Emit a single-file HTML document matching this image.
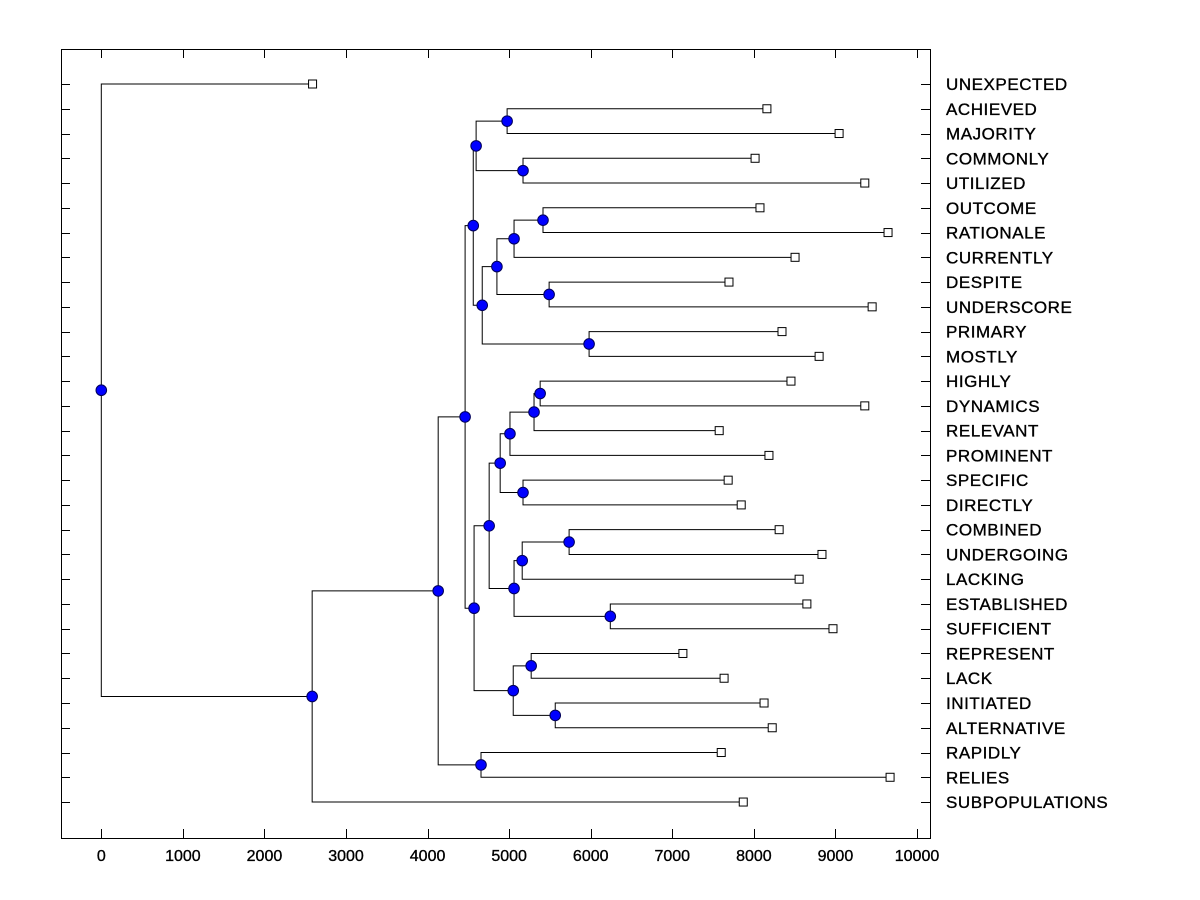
<!DOCTYPE html>
<html><head><meta charset="utf-8"><style>
body{margin:0;background:#fff;}
svg{display:block;font-family:"Liberation Sans",Arial,sans-serif;}
</style></head><body>
<svg id="chart" width="1200" height="900" viewBox="0 0 1200 900" xmlns="http://www.w3.org/2000/svg">
<rect x="61.5" y="49.5" width="869" height="789" fill="none" stroke="#000" stroke-width="1"/>
<g id="axes"></g>
<g id="links"></g>
<g id="marks"></g>
<g id="labels"></g>
</svg>
<script>
const leafNames = ["UNEXPECTED","ACHIEVED","MAJORITY","COMMONLY","UTILIZED","OUTCOME","RATIONALE","CURRENTLY","DESPITE","UNDERSCORE","PRIMARY","MOSTLY","HIGHLY","DYNAMICS","RELEVANT","PROMINENT","SPECIFIC","DIRECTLY","COMBINED","UNDERGOING","LACKING","ESTABLISHED","SUFFICIENT","REPRESENT","LACK","INITIATED","ALTERNATIVE","RAPIDLY","RELIES","SUBPOPULATIONS"];
const leafValues = [2590,8160,9045,8015,9360,8075,9645,8505,7695,9450,8345,8800,8455,9360,7575,8185,7685,7845,8310,8835,8555,8650,8970,7130,7635,8125,8225,7600,9670,7870];
// internal nodes: children refer to leaves as "L#" and nodes as "N#"
const nodeChildren = [
 ["L1","L2"],["L3","L4"],["N0","N1"],["L5","L6"],["N3","L7"],["L8","L9"],["N4","N5"],["L10","L11"],["N6","N7"],["N2","N8"],
 ["L12","L13"],["N10","L14"],["N11","L15"],["L16","L17"],["N12","N13"],["L18","L19"],["N15","L20"],["L21","L22"],["N16","N17"],["N14","N18"],
 ["L23","L24"],["L25","L26"],["N20","N21"],["N19","N22"],["N9","N23"],["L27","L28"],["N24","N25"],["N26","L29"],["L0","N27"]
];
const nodeValues = [4975,5170,4595,5415,5060,5490,4850,5980,4670,4560,5380,5305,5010,5170,4890,5735,5160,6240,5060,4755,5270,5565,5050,4570,4460,4655,4130,2585,0];
const xTicks = [0,1000,2000,3000,4000,5000,6000,7000,8000,9000,10000];

const NS="http://www.w3.org/2000/svg";
const xs = v => 101.3 + v*0.08157;
const ys = i => 84 + i*24.76;
function mk(tag, parent, attrs){const e=document.createElementNS(NS,tag);for(const k in attrs)e.setAttribute(k,attrs[k]);parent.appendChild(e);return e;}
const axes=document.getElementById('axes'),links=document.getElementById('links'),marks=document.getElementById('marks'),labels=document.getElementById('labels');

xTicks.forEach(t=>{
  const x=Math.round(xs(t))+0.5;
  let l=mk('line',axes,{x1:x,x2:x,y1:838,y2:829,stroke:'#000'});
  
  
  l=mk('line',axes,{x1:x,x2:x,y1:49,y2:58,stroke:'#000'});
  
  
  const tx=mk('text',axes,{x:xs(t),y:861,'text-anchor':'middle','font-size':'16',stroke:'#000','stroke-width':'0.35'});
  tx.textContent=t;
  
  
});
leafNames.forEach((n,i)=>{
  const y=Math.round(ys(i))+0.5;
  let l=mk('line',axes,{x1:61,x2:70,y1:y,y2:y,stroke:'#000'});
  
  
  l=mk('line',axes,{x1:921,x2:930,y1:y,y2:y,stroke:'#000'});
  
  
  const tx=mk('text',labels,{x:946,y:ys(i)+6,'font-size':'17','letter-spacing':'0.55',stroke:'#000','stroke-width':'0.35'});
  tx.textContent=n;
  
  
});

const pos={};
leafValues.forEach((v,i)=>{pos['L'+i]={x:xs(v),y:ys(i)};});
nodeChildren.forEach((c,i)=>{
  const a=pos[c[0]],b=pos[c[1]];
  const x=xs(nodeValues[i]),y=(a.y+b.y)/2;
  pos['N'+i]={x,y};
  const p=mk('path',links,{d:`M${a.x},${a.y}H${x}V${b.y}H${b.x}`,fill:'none',stroke:'#000','stroke-width':'1'});
  
  
});
leafValues.forEach((v,i)=>{
  const p=pos['L'+i];
  const r=mk('rect',marks,{x:p.x-4,y:p.y-4,width:8,height:8,fill:'#fff',stroke:'#000'});
  
  
});
nodeValues.forEach((v,i)=>{
  const p=pos['N'+i];
  const c=mk('circle',marks,{cx:p.x,cy:p.y,r:5.3,fill:'#0000ff',stroke:'#00005a','stroke-width':'1'});
  
  
});
</script>
</body></html>
